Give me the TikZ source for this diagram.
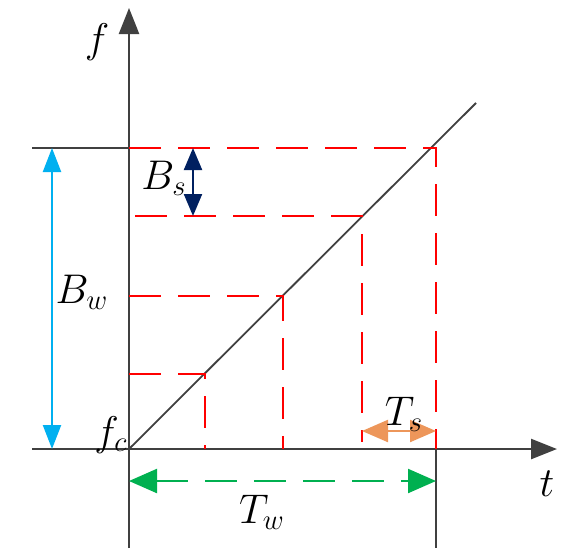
\documentclass[tikz,border=0pt]{standalone}
\usepackage{amsmath}
\usepackage{tikz}
\usepackage{xcolor}
\usetikzlibrary{arrows.meta, positioning, calc}
\definecolor{axisGray}{RGB}{64,64,64}
\definecolor{guideRed}{RGB}{255,0,0}
\definecolor{bwBlue}{RGB}{0,176,240}
\definecolor{bsNavy}{RGB}{0,32,96}
\definecolor{tsOrange}{RGB}{237,150,90}
\definecolor{twGreen}{RGB}{0,176,80}
\tikzset{
    axisLine/.style={axisGray, line width=1.25pt},
    guideLine/.style={guideRed, line width=1.1pt, dash pattern=on 16pt off 8.5pt},
    dimArrow/.style={{Triangle[length=12pt, width=9pt]}-{Triangle[length=12pt, width=9pt]}, line width=1.1pt},
    varLabel/.style={inner sep=1pt, font=\fontsize{20}{24}\selectfont}
}

\begin{document}
\begin{tikzpicture}[x=0.5pt, y=-0.5pt, >={Triangle[length=13pt, width=10pt]}]
    \useasboundingbox (0,0) rectangle (582,557);
    % axes
    \coordinate (O) at (129,449);
    \coordinate (yBot) at (129,548);  \coordinate (yTop) at (129,8);
    \coordinate (xLeft) at (32,449);  \coordinate (xRight) at (557,449);
    \draw[axisLine, ->] (yBot)--(yTop);
    \draw[axisLine, ->] (xLeft)--(xRight);
    % ramp and its sample points
    \coordinate (P1) at (205,374);  \coordinate (P2) at (283,296);
    \coordinate (P3) at (362,216);  \coordinate (P4) at (436,148);
    \coordinate (rampEnd) at (476,103);
    \draw[axisGray, line width=0.9pt] (O)--(rampEnd);
    % band and window edges
    \coordinate (bwTop) at (32,148);
    \coordinate (twBot) at (436,548);
    \draw[axisLine] (bwTop)--(P4 -| O);
    \draw[axisLine] (P4 |- O)--(twBot);
    % guide lines
    \draw[guideLine] (P1 -| O)--(P1)--(P1 |- O);
    \draw[guideLine] (P2 -| O)--(P2)--(P2 |- O);
    \draw[guideLine] (135,216)--(P3)--(362,442);
    \draw[guideLine] (P4 -| O)--(P4)--(P4 |- O);
    % dimensions
    \coordinate (bwA) at (52,148);  \coordinate (bwB) at (52,449);
    \coordinate (bsA) at (193,148); \coordinate (bsB) at (193,216);
    \coordinate (tsA) at (362,431); \coordinate (tsB) at (436,431);
    \coordinate (twA) at (129,481); \coordinate (twB) at (436,481);
    \draw[dimArrow, bwBlue] (bwA)--(bwB);
    \draw[dimArrow, bsNavy, {Triangle[length=11pt, width=9pt]}-{Triangle[length=11pt, width=9pt]}] (bsA)--(bsB);
    \draw[dimArrow, tsOrange, {Triangle[length=13pt, width=11pt]}-{Triangle[length=13pt, width=11pt]}] (tsA)--(tsB);
    \draw[dimArrow, twGreen, dash pattern=on 16pt off 8.5pt, {Triangle[length=14pt, width=12pt]}-{Triangle[length=14pt, width=12pt]}] (twA)--(twB);
    % labels
    \node[varLabel] (fLabel) at (97,42) {$f$};
    \node[varLabel] (tLabel) at (547,484) {$t$};
    \node[varLabel] (fcLabel) at (111,435) {$f_c$};
    \node[varLabel] (BwLabel) at (82,292) {$B_w$};
    \node[varLabel] (BsLabel) at (164,178) {$B_s$};
    \node[varLabel] (TsLabel) at (404,414) {$T_s$};
    \node[varLabel] (TwLabel) at (262,512) {$T_w$};
\end{tikzpicture}
\end{document}
